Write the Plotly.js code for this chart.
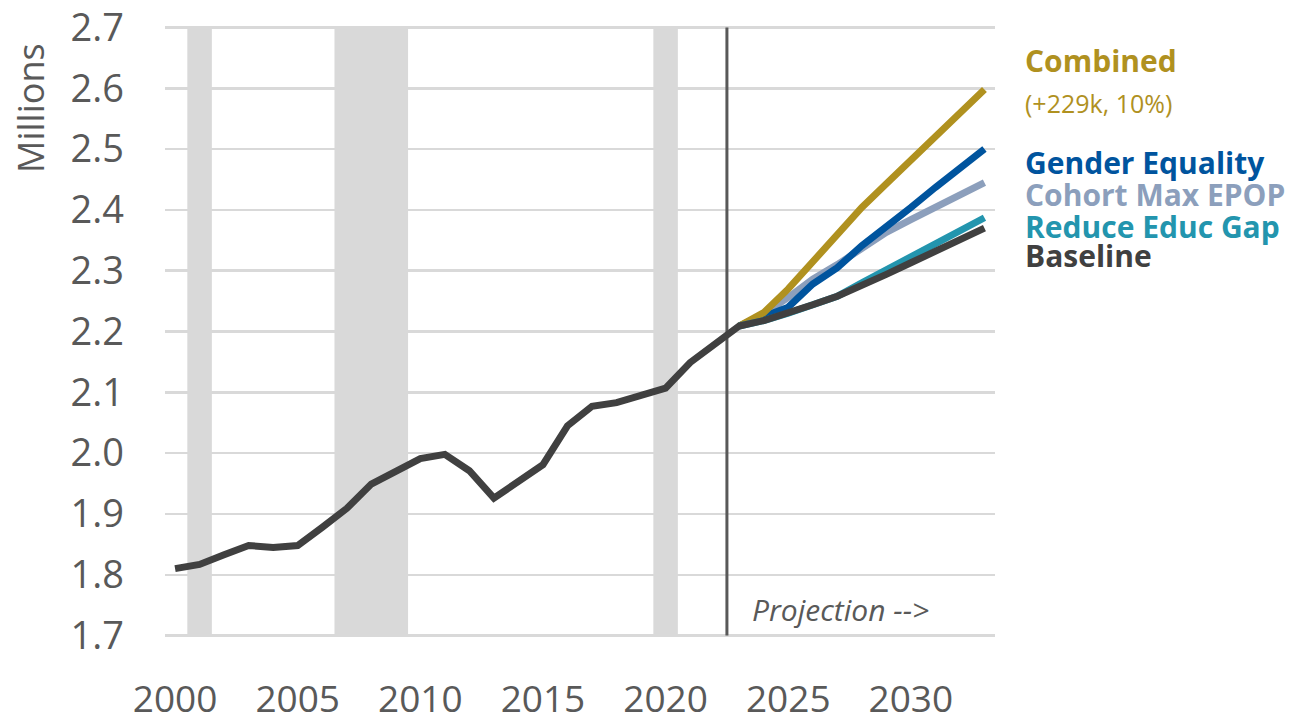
<!DOCTYPE html>
<html>
<head>
<meta charset="utf-8">
<script src="https://cdn.plot.ly/plotly-3.0.1.min.js"></script>
<style>html,body{margin:0;padding:0;background:#fff;}#chart{width:1299px;height:717px;}</style>
</head>
<body>
<div id="chart"></div>
<script>
// ---- data ----
const histYears = [2000,2001,2002,2003,2004,2005,2006,2007,2008,2009,2010,2011,2012,2013,2014,2015,2016,2017,2018,2019,2020,2021,2022,2023,2024,2025,2026,2027,2028,2029,2030,2031,2032,2033];
const baseline = [1.810,1.817,1.833,1.848,1.845,1.848,1.878,1.909,1.949,1.969,1.991,1.998,1.971,1.926,1.954,1.981,2.045,2.077,2.083,2.094,2.107,2.149,2.180,2.209,2.218,2.230,2.244,2.258,2.275,2.294,2.313,2.332,2.351,2.370];
const projYears = [2023,2024,2025,2026,2027,2028,2029,2030,2031,2032,2033];
const combined = [2.209,2.231,2.270,2.316,2.360,2.404,2.443,2.482,2.521,2.560,2.598];
const genderEquality = [2.209,2.223,2.240,2.278,2.305,2.341,2.371,2.404,2.437,2.470,2.500];
const cohortMaxEpop = [2.209,2.229,2.256,2.286,2.310,2.337,2.363,2.384,2.404,2.425,2.445];
const reduceEducGap = [2.209,2.218,2.230,2.244,2.258,2.280,2.301,2.322,2.344,2.366,2.387];
const recessionYears = [2001,2007,2008,2009,2020];
const firstProjectionYear = 2023;
const xTickVals = [2000,2005,2010,2015,2020,2025,2030];
const yTickVals = [1.7,1.8,1.9,2.0,2.1,2.2,2.3,2.4,2.5,2.6,2.7];
const seriesNames = ["Combined","Gender Equality","Cohort Max EPOP","Reduce Educ Gap","Baseline"];
const combinedNote = "(+229k, 10%)";

// ---- styles ----
const C = {gold:"#B0911F", blue:"#00549E", gray:"#8C9FBC", teal:"#2395AE", dark:"#404040", axis:"#595959", grid:"#D9D9D9"};
const FONT = "Open Sans, Noto Sans, sans-serif";

function line(x, y, color, w, name){
  return {x:x, y:y, type:"scatter", mode:"lines", name:name, hoverinfo:"skip",
          line:{color:color, width:w, shape:"linear"}};
}
const traces = [
  line(projYears, cohortMaxEpop, C.gray, 7, seriesNames[2]),
  line(projYears, genderEquality, C.blue, 7, seriesNames[1]),
  line(projYears, combined, C.gold, 7, seriesNames[0]),
  line(projYears, reduceEducGap, C.teal, 7, seriesNames[3]),
  line(histYears, baseline, C.dark, 7, seriesNames[4])
];

// merge consecutive recession years into continuous bands
const runs = [];
recessionYears.forEach(y => {
  const last = runs[runs.length-1];
  if (last && y === last[1] + 1) last[1] = y; else runs.push([y, y]);
});
const shapes = runs.map(r => ({type:"rect", xref:"x", yref:"y", x0:r[0]-0.5, x1:r[1]+0.5,
  y0:yTickVals[0], y1:yTickVals[yTickVals.length-1], fillcolor:C.grid, line:{width:0}, layer:"below"}));
shapes.push({type:"line", xref:"x", yref:"y", x0:firstProjectionYear-0.5, x1:firstProjectionYear-0.5,
  y0:yTickVals[0], y1:yTickVals[yTickVals.length-1], line:{color:C.axis, width:3}, layer:"between"});

function lab(text, y, color, size, weight){
  return {xref:"paper", yref:"paper", x:1.034, y:y, xanchor:"left", yanchor:"middle", showarrow:false,
          text:text, font:{family:FONT, size:size, color:color, weight:weight}};
}
const annotations = [
  lab(seriesNames[0], 0.9413, C.gold, 30, 700),
  lab(combinedNote, 0.8723, C.gold, 25, 400),
  lab(seriesNames[1], 0.7757, C.blue, 30, 700),
  lab(seriesNames[2], 0.7243, C.gray, 30, 700),
  lab(seriesNames[3], 0.6721, C.teal, 30, 700),
  lab(seriesNames[4], 0.6232, C.dark, 30, 700),
  {xref:"paper", yref:"paper", x:0.705, y:0.0473, xanchor:"left", yanchor:"middle", showarrow:false,
   text:"<i>Projection --></i>", font:{family:FONT, size:30, color:C.axis}},
  {xref:"paper", yref:"paper", x:-0.1627, y:0.8646, xanchor:"center", yanchor:"middle", showarrow:false,
   textangle:-90, text:"Millions", font:{family:FONT, size:36, color:C.axis}}
];

const layout = {
  width:1299, height:717,
  margin:{l:165, r:304, t:25, b:79, pad:0},
  paper_bgcolor:"#fff", plot_bgcolor:"#fff",
  showlegend:false,
  font:{family:FONT, color:C.axis},
  xaxis:{range:[1999.59, 2033.43], tickvals:xTickVals, showgrid:false, zeroline:false, showline:false,
         ticks:"", tickfont:{family:FONT, size:37, color:C.axis}, ticklabelstandoff:36, fixedrange:true},
  yaxis:{range:[1.696, 2.704], tickvals:yTickVals, tickformat:".1f", showgrid:true, gridcolor:C.grid, gridwidth:2.5,
         zeroline:false, showline:false, ticks:"", tickfont:{family:FONT, size:38, color:C.axis},
         ticklabelstandoff:40, ticklabeloverflow:"allow", fixedrange:true},
  shapes:shapes,
  annotations:annotations
};
Plotly.newPlot("chart", traces, layout, {displayModeBar:false, staticPlot:true});
</script>
</body>
</html>
